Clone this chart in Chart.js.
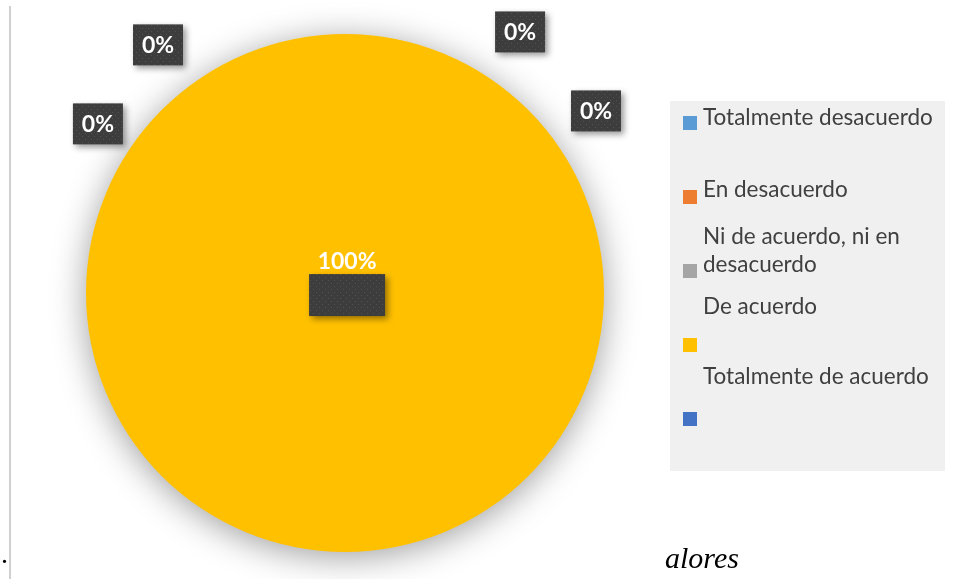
<!DOCTYPE html>
<html>
<head>
<meta charset="utf-8">
<script src="https://cdn.jsdelivr.net/npm/chart.js@4/dist/chart.umd.min.js"></script>
<style>
  html, body { margin: 0; padding: 0; background: #fff; }
  #wrap { position: relative; width: 967px; height: 579px; overflow: hidden; }
  #chart { position: absolute; left: 0; top: 0; }
  .rule { position: absolute; left: 9px; top: 6px; width: 2px; height: 573px; background: #d0d0d0; }
  .dot { position: absolute; left: 1px; top: 538px; font: 28px "Liberation Serif", serif; color: #000; }
  .tail { position: absolute; left: 665px; top: 541px; font: italic 30px "Liberation Serif", serif; color: #000; }
</style>
</head>
<body>
<div id="wrap">
  <canvas id="chart" width="967" height="579"></canvas>
  <div class="rule"></div>
  <div class="dot">.</div>
  <div class="tail">alores</div>
</div>
<script>
// categories and values (percent)
const categories = ['Totalmente desacuerdo', 'En desacuerdo', 'Ni de acuerdo, ni en desacuerdo', 'De acuerdo', 'Totalmente de acuerdo'];
const values = [0, 0, 0, 100, 0];
const labels = ['0%', '0%', '0%', '100%', '0%'];
const colors = ['#5B9BD5', '#ED7D31', '#A5A5A5', '#FFC000', '#4472C4'];

// where the data labels were dragged to, in pie radii from the centre
const labelSpots = [
    { text: [0.676, -1.008], box: [0.676, -1.008] },
    { text: [0.969, -0.703], box: [0.969, -0.703] },
    { text: [-0.954, -0.653], box: [-0.954, -0.653] },
    { text: [0.008, -0.127], box: [0.008, 0.008], w: 76, h: 42 },
    { text: [-0.722, -0.958], box: [-0.722, -0.958] }
];

// legend rows: y of text lines and marker top
const legendBox = { x: 670, y: 101, w: 275, h: 370 };
const legendRows = [
    { lines: [118], marker: 116 },
    { lines: [190], marker: 190 },
    { lines: [237, 265], marker: 264 },
    { lines: [307], marker: 338 },
    { lines: [377], marker: 412 }
];

function makePattern(ctx) {
    const tile = document.createElement('canvas');
    tile.width = 6; tile.height = 6;
    const t = tile.getContext('2d');
    t.fillStyle = '#3d3d3d';
    t.fillRect(0, 0, 6, 6);
    t.fillStyle = '#525252';
    t.fillRect(1, 1, 1, 1);
    t.fillRect(4, 4, 1, 1);
    return ctx.createPattern(tile, 'repeat');
}

const pieShadow = {
    id: 'pieShadow',
    beforeDatasetDraw(chart) {
        const ctx = chart.ctx;
        ctx.save();
        ctx.shadowColor = 'rgba(0,0,0,0.38)';
        ctx.shadowBlur = 34;
        ctx.shadowOffsetY = 5;
    },
    afterDatasetDraw(chart) {
        chart.ctx.restore();
    }
};

const labelBoxes = {
    id: 'labelBoxes',
    afterDatasetsDraw(chart) {
        const ctx = chart.ctx;
        const arc = chart.getDatasetMeta(0).data[0];
        const cx = arc.x, cy = arc.y, r = arc.outerRadius;
        const pat = makePattern(ctx);
        ctx.font = 'bold 23px Lato';
        ctx.textAlign = 'center';
        ctx.textBaseline = 'middle';
        labels.forEach((lab, i) => {
            const s = labelSpots[i];
            const w = s.w || 50, h = s.h || 41;
            const bx = cx + s.box[0] * r, by = cy + s.box[1] * r;
            ctx.save();
            ctx.shadowColor = 'rgba(0,0,0,0.4)';
            ctx.shadowBlur = 6;
            ctx.shadowOffsetX = 3;
            ctx.shadowOffsetY = 3;
            ctx.fillStyle = pat;
            ctx.fillRect(bx - w / 2, by - h / 2, w, h);
            ctx.restore();
            ctx.fillStyle = '#ffffff';
            ctx.fillText(lab, cx + s.text[0] * r, cy + s.text[1] * r + 1);
        });
    }
};

function wrap(ctx, text, maxW) {
    const words = text.split(' ');
    const out = [];
    let line = '';
    words.forEach(wd => {
        const test = line ? line + ' ' + wd : wd;
        if (ctx.measureText(test).width > maxW && line) {
            out.push(line);
            line = wd;
        } else {
            line = test;
        }
    });
    out.push(line);
    return out;
}

const sideLegend = {
    id: 'sideLegend',
    afterDraw(chart) {
        const ctx = chart.ctx;
        ctx.save();
        ctx.fillStyle = '#F0F0F0';
        ctx.fillRect(legendBox.x, legendBox.y, legendBox.w, legendBox.h);
        ctx.font = '20px Lato';
        // fit longest label to the width it takes in the reference
        const fit = 230 / ctx.measureText(categories[0]).width;
        ctx.font = (20 * fit).toFixed(1) + 'px Lato';
        ctx.textAlign = 'left';
        ctx.textBaseline = 'middle';
        categories.forEach((cat, i) => {
            const row = legendRows[i];
            ctx.fillStyle = colors[i];
            ctx.fillRect(683, row.marker, 14, 14);
            ctx.fillStyle = '#404040';
            const lines = wrap(ctx, cat, 234);
            lines.forEach((ln, k) => {
                ctx.fillText(ln, 703, row.lines[k] !== undefined ? row.lines[k] : row.lines[0] + k * 28);
            });
        });
        ctx.restore();
    }
};

new Chart(document.getElementById('chart'), {
    type: 'pie',
    data: {
        labels: categories,
        datasets: [{
            data: values,
            backgroundColor: colors,
            borderWidth: 0,
            hoverOffset: 0
        }]
    },
    options: {
        responsive: false,
        animation: false,
        rotation: 0,
        layout: { padding: { left: 86, top: 34, right: 363, bottom: 27 } },
        plugins: {
            legend: { display: false },
            tooltip: { enabled: false }
        }
    },
    plugins: [pieShadow, labelBoxes, sideLegend]
});
</script>
</body>
</html>
